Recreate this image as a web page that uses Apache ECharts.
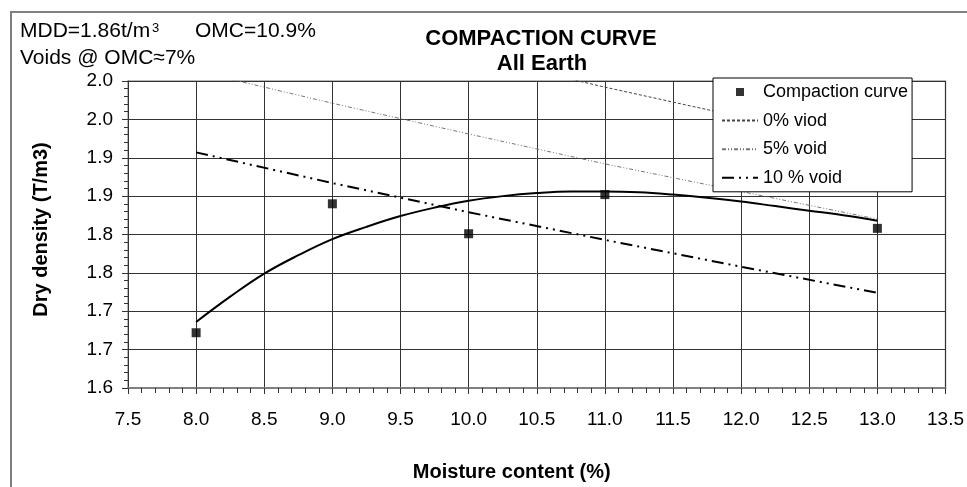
<!DOCTYPE html>
<html><head><meta charset="utf-8">
<script src="https://cdn.jsdelivr.net/npm/echarts@6/dist/echarts.min.js"></script>
<style>html,body{margin:0;padding:0;background:#fff}#c{width:967px;height:487px}</style>
</head><body><div id="c"></div>
<script>
const F = 'Liberation Sans, Arial, sans-serif';
const xTickLabels = ['7.5','8.0','8.5','9.0','9.5','10.0','10.5','11.0','11.5','12.0','12.5','13.0','13.5'];
const yTickLabels = ['1.6','1.7','1.7','1.8','1.8','1.9','1.9','2.0','2.0'];
const moisture = [8, 9, 10, 11, 13];
const density = [1.672, 1.840, 1.801, 1.852, 1.808];
const trendX = [8, 8.25, 8.5, 8.75, 9, 9.25, 9.5, 9.75, 10, 10.25, 10.5, 10.75, 11, 11.25, 11.5, 11.75, 12, 12.25, 12.5, 12.75, 13];
const trendY = [1.686, 1.719, 1.749, 1.773, 1.794, 1.810, 1.824, 1.835, 1.844, 1.850, 1.854, 1.856, 1.856, 1.855, 1.852, 1.848, 1.843, 1.837, 1.831, 1.825, 1.818];
const voidX = [8, 9, 10, 11, 12, 13];
const void0 = [2.119, 2.075, 2.033, 1.992, 1.953, 1.916];
const void5 = [2.013, 1.971, 1.931, 1.892, 1.856, 1.820];
const void10 = [1.907, 1.867, 1.829, 1.793, 1.758, 1.724];

const pairs = (xs, ys) => xs.map((x, i) => [x, ys[i]]);
const noSym = { color: 'rgba(0,0,0,0)', borderColor: 'rgba(0,0,0,0)', borderWidth: 0 };
const chart = echarts.init(document.getElementById('c'));
chart.setOption({
  animation: false,
  backgroundColor: '#fff',
  textStyle: { fontFamily: F },
  grid: { left: 128, right: 18, top: 81, bottom: 99, show: true, borderColor: '#a0a0a0', borderWidth: 1.5, containLabel: false },
  graphic: [
    { type: 'rect', shape: { x: 11, y: 12, width: 1000, height: 1000 }, style: { fill: 'none', stroke: '#808080', lineWidth: 2 }, z: 100 },
    { type: 'text', style: { x: 20, y: 31.5, text: 'MDD=1.86t/m', font: '21px ' + F, fill: '#000', verticalAlign: 'middle' } },
    { type: 'text', style: { x: 152, y: 28.5, text: '3', font: '13px ' + F, fill: '#000', verticalAlign: 'middle' } },
    { type: 'text', style: { x: 195, y: 31.5, text: 'OMC=10.9%', font: '21px ' + F, fill: '#000', verticalAlign: 'middle' } },
    { type: 'text', style: { x: 20, y: 58.3, text: 'Voids @ OMC\u22487%', font: '21px ' + F, fill: '#000', verticalAlign: 'middle' } },
    { type: 'text', style: { x: 541, y: 39, text: 'COMPACTION CURVE', font: 'bold 22px ' + F, fill: '#000', align: 'center', verticalAlign: 'middle' } },
    { type: 'text', style: { x: 542, y: 64, text: 'All Earth', font: 'bold 22px ' + F, fill: '#000', align: 'center', verticalAlign: 'middle' } }
  ],
  legend: {
    orient: 'vertical', left: 713, top: 78,
    data: [
      { name: 'Compaction curve', icon: 'path://M0,0h1v1h-1z' },
      { name: '0% viod', itemStyle: noSym },
      { name: '5% void', itemStyle: noSym },
      { name: '10 % void', itemStyle: noSym }
    ],
    itemWidth: 36, itemHeight: 8, itemGap: 8.6,
    padding: [4, 4, 4, 8],
    backgroundColor: '#fff', borderColor: '#000', borderWidth: 1, borderRadius: 0,
    textStyle: { fontSize: 18, fontFamily: F, color: '#000', lineHeight: 20 },
    selectedMode: false
  },
  xAxis: {
    type: 'value', min: 7.5, max: 13.5, interval: 0.5,
    axisLine: { show: true, onZero: false, lineStyle: { color: '#808080', width: 2 } },
    axisTick: { show: true, inside: false, length: 6, lineStyle: { color: '#333' } },
    minorTick: { show: true, splitNumber: 5, length: 5, lineStyle: { color: '#333' } },
    axisLabel: { fontSize: 19, color: '#000', margin: 22, fontFamily: F,
      formatter: v => xTickLabels[Math.round((v - 7.5) / 0.5)] },
    splitLine: { show: true, lineStyle: { color: '#333', width: 1 } },
    name: 'Moisture content (%)', nameLocation: 'middle', nameGap: 74,
    nameTextStyle: { fontSize: 20, fontWeight: 'bold', color: '#000', fontFamily: F, padding: [0, 50, 0, 0] }
  },
  yAxis: {
    type: 'value', min: 1.6, max: 2.0, interval: 0.05,
    axisLine: { show: true, onZero: false, lineStyle: { color: '#333', width: 1 } },
    axisTick: { show: true, inside: false, length: 6, lineStyle: { color: '#333' } },
    minorTick: { show: true, splitNumber: 5, length: 4, lineStyle: { color: '#333' } },
    axisLabel: { fontSize: 19, color: '#000', margin: 15, fontFamily: F,
      formatter: v => yTickLabels[Math.round((v - 1.6) / 0.05)] },
    splitLine: { show: true, lineStyle: { color: '#333', width: 1 } },
    name: 'Dry density (T/m3)', nameLocation: 'middle', nameGap: 77,
    nameTextStyle: { fontSize: 20, fontWeight: 'bold', color: '#000', fontFamily: F, padding: [0, 0, 0, 10] }
  },
  series: [
    { name: 'trend', type: 'line', data: pairs(trendX, trendY), smooth: 0.4, symbol: 'none',
      lineStyle: { color: '#000', width: 2 }, itemStyle: { color: '#000' }, z: 3 },
    { name: '0% viod', type: 'line', data: pairs(voidX, void0), symbol: 'none',
      lineStyle: { color: '#444', width: 1, type: [3, 2] }, itemStyle: { color: '#444' }, z: 2 },
    { name: '5% void', type: 'line', data: pairs(voidX, void5), symbol: 'none',
      lineStyle: { color: '#777', width: 1, type: [4, 2, 1, 2, 1, 2] }, itemStyle: { color: '#777' }, z: 2 },
    { name: '10 % void', type: 'line', data: pairs(voidX, void10), symbol: 'none',
      lineStyle: { color: '#000', width: 2, type: [12, 5, 2, 5, 2, 5] }, itemStyle: { color: '#000' }, z: 2 },
    { name: 'Compaction curve', type: 'scatter', data: pairs(moisture, density), symbol: 'rect', symbolSize: 9,
      itemStyle: { color: '#000' }, z: 5 }
  ]
});
</script></body></html>
